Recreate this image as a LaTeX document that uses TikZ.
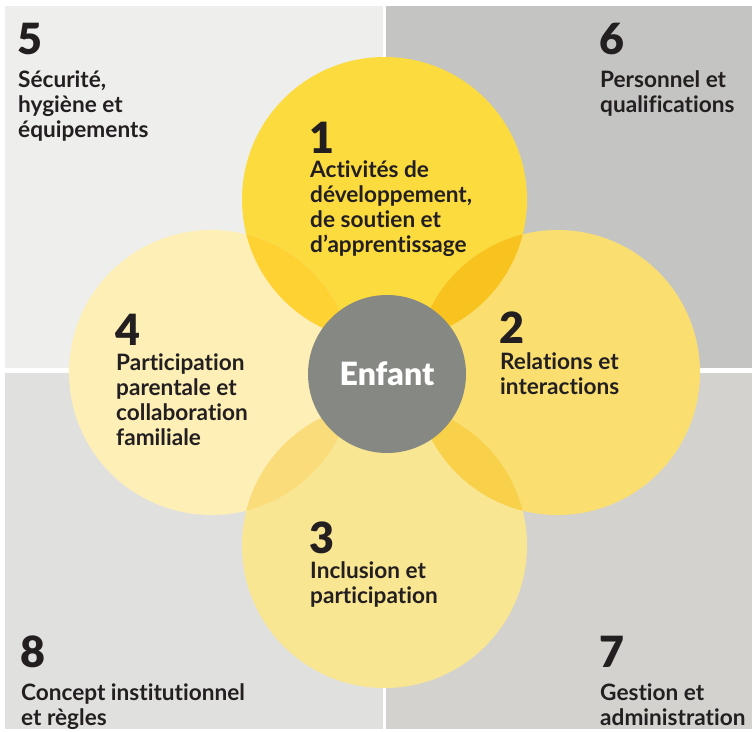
\documentclass[tikz,border=0pt]{standalone}
\usepackage{fontspec}
\setmainfont{Lato}[Ligatures=NoCommon]
\newfontfamily\blackfont{Lato Black}[Ligatures=NoCommon]
\definecolor{qfive}{HTML}{EEEEEC}
\definecolor{qsix}{HTML}{C4C4C2}
\definecolor{qeight}{HTML}{E0E0DE}
\definecolor{qseven}{HTML}{D3D2CF}
\definecolor{cone}{HTML}{FBDB3E}
\definecolor{ctwo}{HTML}{FADF70}
\definecolor{cthree}{HTML}{F9E692}
\definecolor{cfour}{HTML}{FDEFB6}
\definecolor{lonefour}{HTML}{FDD232}
\definecolor{lonetwo}{HTML}{F9C31F}
\definecolor{ltwothree}{HTML}{F9D04A}
\definecolor{lthreefour}{HTML}{FADC7A}
\definecolor{enf}{HTML}{868883}
\definecolor{ink}{HTML}{231F20}
\newcommand\mylines[1]{\vtop{\baselineskip=25pt\lineskip=0pt\lineskiplimit=-50pt\halign{##\hfil\cr#1\crcr}}}
\tikzset{
  numlabel/.style={anchor=base west, inner sep=0pt, text=ink, font=\blackfont\fontsize{43}{43}\selectfont},
  txtlabel/.style={anchor=base west, inner sep=0pt, text=ink, font=\bfseries\fontsize{22.6}{25}\selectfont},
  petal/.style={circle, minimum size=285pt, inner sep=0pt},
}
\begin{document}
\begin{tikzpicture}[x=1pt,y=-1pt]
\useasboundingbox (0,0) rectangle (752,731);
\fill[white] (0,0) rectangle (752,731);
% quadrants
\fill[qfive] (5,6) rectangle (383,368);
\fill[qsix] (386,6) rectangle (752,368);
\fill[qeight] (5,373) rectangle (383,729);
\fill[qseven] (386,373) rectangle (752,729);
% petals
\node[petal, fill=cone] (c1) at (384.5,199.5) {};
\node[petal, fill=ctwo] (c2) at (557.5,372.5) {};
\node[petal, fill=cthree] (c3) at (384.5,545.5) {};
\node[petal, fill=cfour] (c4) at (211.5,372.5) {};
% lenses
\begin{scope}
  \clip (384.5,199.5) circle (142.5pt);
  \fill[lonefour] (211.5,372.5) circle (142.5pt);
  \fill[lonetwo] (557.5,372.5) circle (142.5pt);
\end{scope}
\begin{scope}
  \clip (384.5,545.5) circle (142.5pt);
  \fill[ltwothree] (557.5,372.5) circle (142.5pt);
  \fill[lthreefour] (211.5,372.5) circle (142.5pt);
\end{scope}
% centre
\node[circle, fill=enf, minimum size=158pt, inner sep=0pt, text=white,
  font=\blackfont\fontsize{32}{32}\selectfont] (enfant) at (387,374) {Enfant};
% labels
\node[numlabel] (n1) at (309,153) {1};
\node[txtlabel] (t1) at (310,177) {\mylines{Activités de\cr développement,\cr de soutien et\cr d’apprentissage}};
\node[numlabel] (n2) at (499,343) {2};
\node[txtlabel] (t2) at (500,369) {\mylines{Relations et\cr interactions}};
\node[numlabel] (n3) at (309,553) {3};
\node[txtlabel] (t3) at (310,578) {\mylines{Inclusion et\cr participation}};
\node[numlabel] (n4) at (115,345) {4};
\node[txtlabel] (t4) at (116,370) {\mylines{Participation\cr parentale et\cr collaboration\cr familiale}};
\node[numlabel] (n5) at (17,54) {5};
\node[txtlabel] (t5) at (18,87) {\mylines{Sécurité,\cr hygiène et\cr équipements}};
\node[numlabel] (n6) at (599,54) {6};
\node[txtlabel] (t6) at (600,87) {\mylines{Personnel et\cr qualifications}};
\node[numlabel] (n7) at (599,667) {7};
\node[txtlabel] (t7) at (600,700) {\mylines{Gestion et\cr administration}};
\node[numlabel] (n8) at (20,667) {8};
\node[txtlabel] (t8) at (21,700) {\mylines{Concept institutionnel\cr et règles}};
\end{tikzpicture}
\end{document}
